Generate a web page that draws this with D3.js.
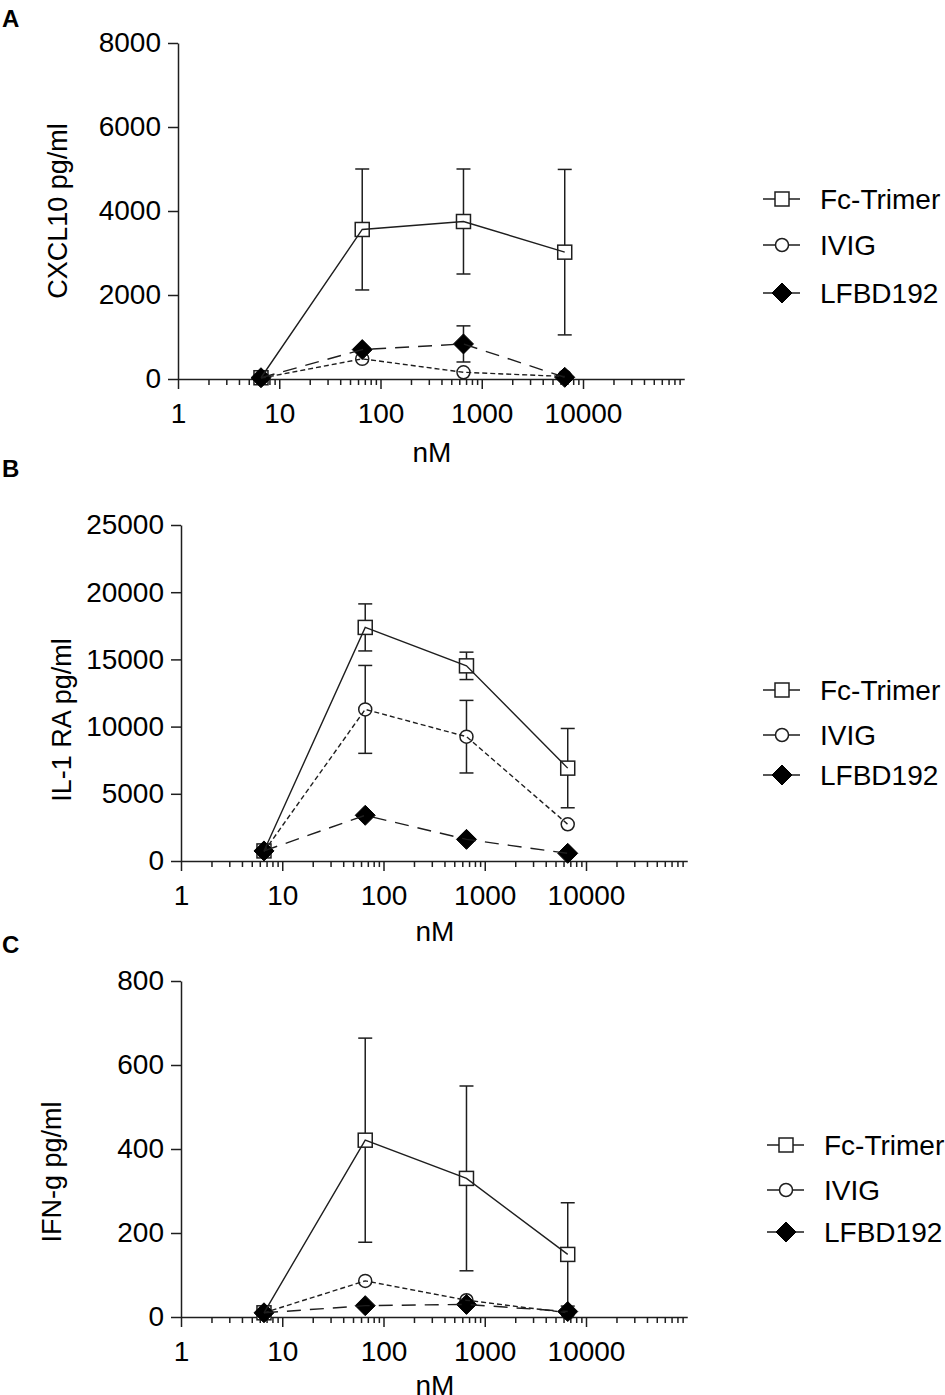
<!DOCTYPE html>
<html>
<head>
<meta charset="utf-8">
<script src="https://cdn.jsdelivr.net/npm/d3@7"></script>
<style>
  body { margin: 0; background: #fff; }
  svg { display: block; font-family: "Liberation Sans", Arial, sans-serif; }
</style>
</head>
<body>
<svg id="chart" width="945" height="1395"></svg>
<script>
'use strict';

// concentrations (nM) and series names
var conc = [6.6, 66, 660, 6600];
var seriesNames = ["Fc-Trimer", "IVIG", "LFBD192"];
var xTickLabels = [1, 10, 100, 1000, 10000];

// A: CXCL10
var cxclFc = [30, 3560, 3750, 3020];
var cxclFcErr = [0, 1440, 1250, 1970];
var cxclIvig = [20, 480, 160, 60];
var cxclIvigErr = [0, 0, 0, 0];
var cxclLfbd = [30, 700, 835, 40];
var cxclLfbdErr = [0, 0, 430, 0];
var cxclTicks = [0, 2000, 4000, 6000, 8000];

// B: IL-1 RA
var il1Fc = [750, 17380, 14520, 6910];
var il1FcErr = [0, 1750, 1020, 2950];
var il1Ivig = [700, 11280, 9250, 2730];
var il1IvigErr = [0, 3270, 2700, 0];
var il1Lfbd = [750, 3400, 1610, 570];
var il1LfbdErr = [0, 0, 0, 0];
var il1Ticks = [0, 5000, 10000, 15000, 20000, 25000];

// C: IFN-g
var ifnFc = [10, 421, 330, 149];
var ifnFcErr = [0, 243, 220, 123];
var ifnIvig = [10, 86, 40, 10];
var ifnIvigErr = [0, 0, 0, 0];
var ifnLfbd = [10, 27, 30, 13];
var ifnLfbdErr = [0, 0, 0, 0];
var ifnTicks = [0, 200, 400, 600, 800];

var INK = "#1e1e1e";
var svg = d3.select("#chart");

var styles = [
    { dash: null, marker: "square" },
    { dash: "5,3", marker: "circle" },
    { dash: "14,9", marker: "diamond" }
];

function drawMarker(g, type, cx, cy) {
    if (type === "square") {
        g.append("rect")
            .attr("x", cx - 7).attr("y", cy - 7)
            .attr("width", 14).attr("height", 14)
            .attr("fill", "#fff").attr("stroke", INK).attr("stroke-width", 1.5);
    } else if (type === "circle") {
        g.append("circle")
            .attr("cx", cx).attr("cy", cy).attr("r", 6.5)
            .attr("fill", "#fff").attr("stroke", INK).attr("stroke-width", 1.5);
    } else {
        g.append("path")
            .attr("d", "M" + cx + "," + (cy - 10) + "L" + (cx + 10) + "," + cy +
                "L" + cx + "," + (cy + 10) + "L" + (cx - 10) + "," + cy + "Z")
            .attr("fill", "#000").attr("stroke", "#000").attr("stroke-width", 1);
    }
}

function drawPanel(p) {
    var g = svg.append("g");

    var x = d3.scaleLog().domain([1, 100000]).range([p.left, p.left + 5 * 101.25]);
    var y = d3.scaleLinear().domain([0, p.ticks[p.ticks.length - 1]]).range([p.base, p.base - 336]);

    // panel letter
    g.append("text")
        .attr("x", 2).attr("y", p.letterY)
        .attr("font-size", 24).attr("font-weight", "bold")
        .text(p.letter);

    // y axis
    var yAxis = d3.axisLeft(y).tickValues(p.ticks).tickSize(10).tickPadding(7).tickSizeOuter(0)
        .tickFormat(d3.format("d"));
    var yg = g.append("g").attr("transform", "translate(" + p.left + ",0)").call(yAxis);
    yg.selectAll("text").attr("font-size", 28).attr("fill", "#000")
        .attr("font-family", "Liberation Sans, Arial, sans-serif");
    yg.selectAll("line, path").attr("stroke", INK).attr("stroke-width", 1.5);

    // x axis: log with minor ticks
    var xTicks = [];
    for (var e = 0; e < 5; e++) {
        for (var m = 1; m <= 9; m++) xTicks.push(m * Math.pow(10, e));
    }
    var xAxis = d3.axisBottom(x).tickValues(xTicks).tickSizeOuter(0)
        .tickFormat(function (d) { return xTickLabels.indexOf(d) >= 0 ? d : ""; });
    var xg = g.append("g").attr("transform", "translate(0," + p.base + ")").call(xAxis);
    xg.selectAll(".tick line")
        .attr("y2", function (d) { return xTickLabels.indexOf(d) >= 0 ? 10 : 6; });
    xg.selectAll("line, path").attr("stroke", INK).attr("stroke-width", 1.5);
    xg.selectAll("text").attr("font-size", 28).attr("fill", "#000")
        .attr("font-family", "Liberation Sans, Arial, sans-serif")
        .attr("dy", null).attr("y", 44);

    // axis titles
    g.append("text")
        .attr("transform", "translate(" + p.titleX + "," + p.titleY + ") rotate(-90)")
        .attr("text-anchor", "middle")
        .attr("font-size", 27)
        .text(p.yTitle);
    g.append("text")
        .attr("x", p.left + 254).attr("y", p.base + p.nmGap)
        .attr("text-anchor", "middle")
        .attr("font-size", 28)
        .text("nM");

    // error bars
    p.series.forEach(function (s) {
        s.mean.forEach(function (v, i) {
            var err = s.err[i];
            if (!err) return;
            var cx = x(conc[i]);
            var y0 = y(v - err), y1 = y(v + err);
            g.append("line").attr("x1", cx).attr("x2", cx).attr("y1", y0).attr("y2", y1)
                .attr("stroke", INK).attr("stroke-width", 1.5);
            [y0, y1].forEach(function (yy) {
                g.append("line").attr("x1", cx - 7).attr("x2", cx + 7).attr("y1", yy).attr("y2", yy)
                    .attr("stroke", INK).attr("stroke-width", 1.5);
            });
        });
    });

    // markers
    p.series.forEach(function (s, k) {
        s.mean.forEach(function (v, i) {
            drawMarker(g, styles[k].marker, x(conc[i]), y(v));
        });
    });

    // connecting lines
    var line = d3.line()
        .x(function (d, i) { return x(conc[i]); })
        .y(function (d) { return y(d); });
    p.series.forEach(function (s, k) {
        g.append("path")
            .attr("d", line(s.mean))
            .attr("fill", "none")
            .attr("stroke", INK)
            .attr("stroke-width", 1.4)
            .attr("stroke-dasharray", styles[k].dash);
    });

    // legend
    seriesNames.forEach(function (name, k) {
        var ly = p.legendY[k];
        var lx = p.legendX;
        g.append("line").attr("x1", lx - 19).attr("x2", lx + 18).attr("y1", ly).attr("y2", ly)
            .attr("stroke", INK).attr("stroke-width", 1.5);
        drawMarker(g, styles[k].marker, lx, ly);
        g.append("text")
            .attr("x", lx + 38).attr("y", ly + 10)
            .attr("font-size", 28)
            .text(name);
    });
}

var panels = [
    { letter: "A", letterY: 27, left: 178, base: 379, ticks: cxclTicks, yTitle: "CXCL10 pg/ml",
      titleX: 67, titleY: 211, nmGap: 83,
      legendX: 782, legendY: [199, 245, 293],
      series: [{ mean: cxclFc, err: cxclFcErr }, { mean: cxclIvig, err: cxclIvigErr }, { mean: cxclLfbd, err: cxclLfbdErr }] },
    { letter: "B", letterY: 477, left: 181, base: 861, ticks: il1Ticks, yTitle: "IL-1 RA pg/ml",
      titleX: 71, titleY: 720, nmGap: 80,
      legendX: 782, legendY: [690, 735, 775],
      series: [{ mean: il1Fc, err: il1FcErr }, { mean: il1Ivig, err: il1IvigErr }, { mean: il1Lfbd, err: il1LfbdErr }] },
    { letter: "C", letterY: 953, left: 181, base: 1317, ticks: ifnTicks, yTitle: "IFN-g pg/ml",
      titleX: 61, titleY: 1172, nmGap: 78,
      legendX: 786, legendY: [1145, 1190, 1232],
      series: [{ mean: ifnFc, err: ifnFcErr }, { mean: ifnIvig, err: ifnIvigErr }, { mean: ifnLfbd, err: ifnLfbdErr }] }
];

panels.forEach(drawPanel);
</script>
</body>
</html>
